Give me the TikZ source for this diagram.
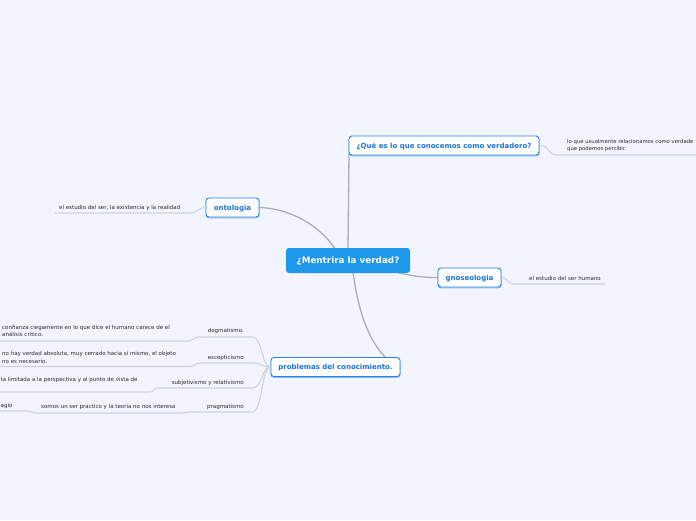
\documentclass[tikz,border=0pt]{standalone}
\usepackage{fontspec}
\setmainfont{DejaVu Sans}
\definecolor{bg}{RGB}{242,245,253}
\definecolor{cfill}{RGB}{30,152,232}
\definecolor{tblue}{RGB}{25,115,220}
\definecolor{tborder}{RGB}{40,130,230}
\definecolor{tshadow}{RGB}{130,185,240}
\definecolor{mainline}{RGB}{172,174,182}
\definecolor{subline}{RGB}{205,210,222}
\definecolor{stext}{RGB}{40,40,50}
\begin{document}
\begin{tikzpicture}[x=1pt,y=-1pt,
  central/.style={fill=cfill, rounded corners=3pt, text=white,
    font=\fontsize{8.8}{10}\selectfont\bfseries,
    minimum width=124pt, minimum height=25pt, inner sep=0pt,
    text height=6.4pt, text depth=0pt},
  topic/.style={draw=tborder, line width=0.9pt, fill=white, rounded corners=3pt,
    text=tblue, font=\fontsize{7}{8}\selectfont\bfseries,
    minimum height=19pt, inner sep=0pt, text height=5.2pt, text depth=0pt,
    preaction={draw=tshadow, line width=1pt, transform canvas={yshift=-0.9pt}}},
  subtxt/.style={text=stext, font=\fontsize{5.5}{7.8}\selectfont, inner sep=0pt, align=left},
  mainconn/.style={draw=mainline, line width=1.3pt},
  subconn/.style={draw=subline, line width=1.1pt}]
\useasboundingbox (0,0) rectangle (696,520);
\fill[bg] (0,0) rectangle (696,520);

% coordinates for connector ends
\coordinate (cOnt) at (335,249);
\coordinate (cGno) at (399,273);
\coordinate (cProb) at (353,272);
\coordinate (pTop) at (386,358);
\coordinate (qU1) at (556,155);
\coordinate (qU2) at (696,155);
\coordinate (oU1) at (190,213);
\coordinate (oU2) at (55,213);
\coordinate (gU1) at (515,284);
\coordinate (gU2) at (605,284);
\coordinate (dU) at (252,337);
\coordinate (eU) at (252,363);
\coordinate (sU) at (252,388);
\coordinate (pU) at (252,412);

% main connectors
\draw[mainconn] (348,249) -- (349,154);
\draw[mainconn] (258,207.5) .. controls (292,208) and (322,228) .. (cOnt);
\draw[mainconn] (cGno) .. controls (418,277) and (425,277.5) .. (439,277.5);
\draw[mainconn] (cProb) .. controls (358,310) and (368,340) .. (pTop);

% nodes
\node[central] (c) at (348,260.5) {¿Mentrira la verdad?};
\node[topic, minimum width=190pt] (que) at (444,145.5) {¿Qué es lo que conocemos como verdadero?};
\node[topic, minimum width=53pt] (onto) at (232.5,207.5) {ontologia};
\node[topic, minimum width=63pt] (gno) at (469.5,277.5) {gnoseologia};
\node[topic, minimum width=129pt] (prob) at (335.5,367) {problemas del conocimiento.};

% sub connectors
\draw[subconn] (que.east) .. controls (550,145.5) and (548,155) .. (qU1) -- (qU2);
\draw[subconn] (onto.west) .. controls (198,207.5) and (198,213) .. (oU1) -- (oU2);
\draw[subconn] (gno.east) .. controls (508,277.5) and (507,284) .. (gU1) -- (gU2);

\draw[subconn] (prob.west) .. controls (261,367) and (263,337) .. (dU) -- (198,337)
  .. controls (193,337) and (193,341) .. (188,341) -- (0,341);
\draw[subconn] (prob.west) .. controls (261,367) and (263,363) .. (eU) -- (200,363)
  .. controls (195,363) and (195,366.5) .. (190,366.5) -- (0,366.5);
\draw[subconn] (prob.west) .. controls (261,367) and (263,388) .. (sU) -- (158,388)
  .. controls (154,388) and (154,392) .. (150,392) -- (0,392);
\draw[subconn] (prob.west) .. controls (261,367) and (263,412) .. (pU) -- (190,412)
  .. controls (186,412) and (186,413) .. (182,413) -- (36,413)
  .. controls (32,413) and (32,411) .. (28,411) -- (0,411);

% sub texts
\node[subtxt, anchor=west, font=\fontsize{5.3}{7.6}\selectfont] (q1) at (567,145.5) {lo que usualmente relacionamos como verdade\\que podemos percibir.};
\node[subtxt, anchor=west] (o1) at (59,208) {el estudio del ser, la existencia y la realidad};
\node[subtxt, anchor=west] (g1) at (529,278) {el estudio del ser humano};

\node[subtxt, anchor=east] (dog) at (244,331) {dogmatismo.};
\node[subtxt, anchor=west] (d1) at (2,331) {confianza ciegamente en lo que dice el humano carece de el\\análisis crítico.};
\node[subtxt, anchor=east] (esc) at (244,358) {escepticismo};
\node[subtxt, anchor=west] (e1) at (2,357.5) {no hay verdad absoluta, muy cerrado hacia si mismo, el objeto\\no es necesario.};
\node[subtxt, anchor=east] (subj) at (244,383) {subjetivismo y relativismo};
\node[subtxt, anchor=west] (s1) at (0.5,380) {ta limitada a la perspectiva y al punto de vista de};
\node[subtxt, anchor=east] (prag) at (244,407) {pragmatismo};
\node[subtxt, anchor=west] (p1) at (41,407) {somos un ser practico y la teoria no nos interesa};
\node[subtxt, anchor=west] (p2) at (0.5,406) {agio};
\end{tikzpicture}
\end{document}
